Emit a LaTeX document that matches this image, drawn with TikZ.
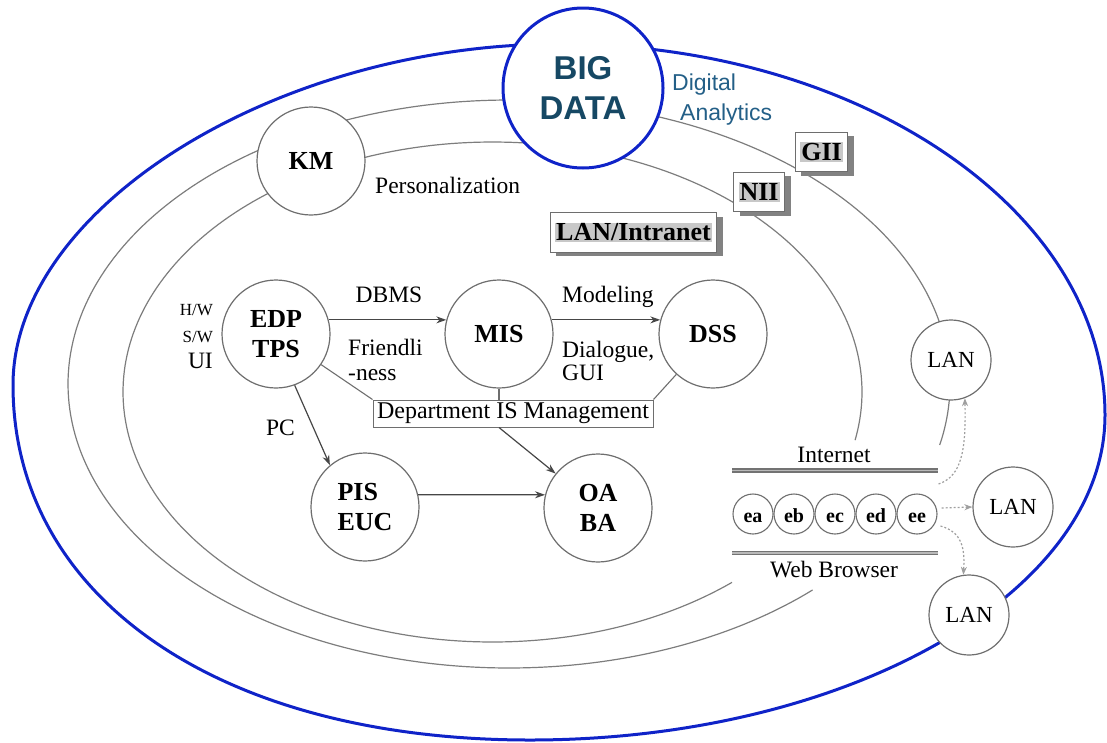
\documentclass[tikz,border=0pt]{standalone}
\usepackage{fontspec}
\setmainfont{Liberation Serif}
\newfontfamily\arialf{Liberation Sans}
\usetikzlibrary{arrows.meta,shadows}
\definecolor{bdblue}{RGB}{15,35,200}
\definecolor{bdtext}{RGB}{22,72,100}
\definecolor{datext}{RGB}{35,95,135}
\definecolor{cgray}{RGB}{110,110,110}
\definecolor{lgray}{RGB}{125,125,125}
\definecolor{agray}{RGB}{70,70,70}
\definecolor{hlgray}{RGB}{200,200,200}
\definecolor{shgray}{RGB}{130,130,130}
\setlength{\fboxsep}{1pt}
\begin{document}
\begin{tikzpicture}[x=1pt,y=-1pt,
  bigc/.style={circle, draw=cgray, line width=1.2pt, fill=white, minimum size=108pt, inner sep=0pt, align=center, font=\bfseries\fontsize{26}{29.5}\selectfont},
  bigd/.style={circle, draw=bdblue, line width=3pt, fill=white, minimum size=160pt, inner sep=0pt, align=center, text=bdtext, font=\arialf\bfseries\fontsize{33}{40}\selectfont},
  lanc/.style={circle, draw=cgray, line width=1.2pt, fill=white, minimum size=80pt, inner sep=0pt, font=\fontsize{23}{28}\selectfont},
  ecirc/.style={circle, draw=cgray, line width=1.1pt, fill=white, minimum size=40pt, inner sep=0pt, text height=16pt, text depth=0pt, font=\bfseries\fontsize{20}{24}\selectfont},
  tagbox/.style={draw=cgray, line width=0.8pt, fill=white, inner xsep=5pt, inner ysep=10pt, font=\bfseries\fontsize{26}{30}\selectfont, drop shadow={shadow xshift=6pt, shadow yshift=-4pt, fill=shgray, opacity=1}},
  deptbox/.style={draw=cgray, line width=1pt, fill=white, minimum width=280pt, minimum height=27pt, inner sep=0pt, font=\fontsize{24}{28}\selectfont},
  lbl/.style={inner sep=0pt, font=\fontsize{23.5}{28}\selectfont},
  smalllbl/.style={inner sep=0pt, font=\fontsize{17}{20}\selectfont},
  dalbl/.style={inner sep=0pt, text=datext, font=\arialf\fontsize{23}{28}\selectfont},
  curve/.style={draw=lgray, line width=1.2pt},
  gline/.style={draw=cgray, line width=1.1pt},
  arr/.style={draw=agray, line width=1.2pt, -{Stealth[length=10pt,width=7pt]}},
  dotarr/.style={draw=gray!75, line width=1.2pt, dash pattern=on 2pt off 2pt, -{Stealth[length=8pt,width=6pt]}},
  dline/.style={draw=black!55, line width=1.6pt, double=gray!55, double distance=1.2pt}
]
\useasboundingbox (0,0) rectangle (1107,742);

% outer blue boundary
\draw[bdblue, line width=3pt] (560,44)
  .. controls (860,44) and (1105,211) .. (1105,415)
  .. controls (1105,594) and (846,740) .. (530,740)
  .. controls (220,740) and (13,598) .. (13,385)
  .. controls (13,208) and (276,44) .. cycle;

% gray orbits
\draw[curve] plot[domain=46.5:372.4, samples=260] ({509+441*cos(\x)},{384+284*sin(\x)});
\draw[curve] plot[domain=49.6:371.1, samples=260] ({492.5+369.5*cos(\x)},{392+250*sin(\x)});

% main nodes
\node[bigd] (bd) at (583,88) {BIG\\DATA};
\node[dalbl, anchor=base west] (dig) at (672,90) {Digital};
\node[dalbl, anchor=base west] (ana) at (680,120) {Analytics};

\node[bigc] (km) at (311,161) {KM};
\node[bigc] (edp) at (276,334) {EDP\\TPS};
\node[bigc] (mis) at (499,334) {MIS};
\node[bigc] (dss) at (713,334) {DSS};
\node[bigc, align=left] (pis) at (365,507) {PIS\\EUC};
\node[bigc] (oa) at (598,508) {OA\\BA};

\node[tagbox] (gii) at (821.5,152) {\colorbox{hlgray}{GII}};
\node[tagbox] (nii) at (759,192) {\colorbox{hlgray}{NII}};
\node[tagbox] (lanin) at (633.5,232.5) {\colorbox{hlgray}{LAN/Intranet}};

\node[deptbox] (dept) at (513,413.5) {Department IS Management};

% labels
\node[lbl, anchor=base west] (pers) at (375,193) {Personalization};
\node[lbl, anchor=base] (dbms) at (389,302) {DBMS};
\node[lbl, anchor=base west] (fr1) at (348,355) {Friendli};
\node[lbl, anchor=base west] (fr2) at (348,380) {-ness};
\node[lbl, anchor=base west] (mod) at (562,302) {Modeling};
\node[lbl, anchor=base west] (dia1) at (562,357) {Dialogue,};
\node[lbl, anchor=base west] (dia2) at (562,380) {GUI};
\node[lbl, anchor=base east] (pc) at (295,435) {PC};
\node[smalllbl, anchor=base east] (hw) at (213,315) {H/W};
\node[smalllbl, anchor=base east] (sw) at (213,342) {S/W};
\node[lbl, anchor=base east] (ui) at (213,368) {UI};

% internet group
\node[lbl, anchor=base] (inet) at (834,462) {Internet};
\node[lbl, anchor=base] (wb) at (834,577) {Web Browser};
\coordinate (i1) at (732,470.5);
\coordinate (i2) at (938,470.5);
\coordinate (w1) at (732,553);
\coordinate (w2) at (938,553);
\draw[dline] (i1) -- (i2);
\draw[dline] (w1) -- (w2);
\node[ecirc] (ea) at (753,514) {ea};
\node[ecirc] (eb) at (794,514) {eb};
\node[ecirc] (ec) at (835,514) {ec};
\node[ecirc] (ed) at (876,514) {ed};
\node[ecirc] (ee) at (917,514) {ee};

\node[lanc] (lan1) at (951,360) {LAN};
\node[lanc] (lan2) at (1013,507) {LAN};
\node[lanc] (lan3) at (969,615) {LAN};

% connectors
\draw[arr] (edp.15) -- (mis.165);
\draw[arr] (mis.15) -- (dss.165);
\draw[arr] (edp.-70) -- (pis.130);
\draw[arr] (pis.13) -- (oa.166);
\draw[gline] (edp) -- (dept.north west);
\draw[gline] (dss) -- (dept.north east);
\draw[gline] (mis.south) -- (mis.south |- dept.north);
\draw[arr] (mis.south |- dept.south) -- (oa);

\draw[dotarr] ([shift={(1,-30)}]ee.east) .. controls (962,476) and (966,450) .. (lan1.-70);
\draw[dotarr] ([shift={(4,-6)}]ee.east) -- (lan2.west);
\draw[dotarr] ([shift={(3,12)}]ee.east) .. controls (962,532) and (965,548) .. (lan3.98);
\end{tikzpicture}
\end{document}
